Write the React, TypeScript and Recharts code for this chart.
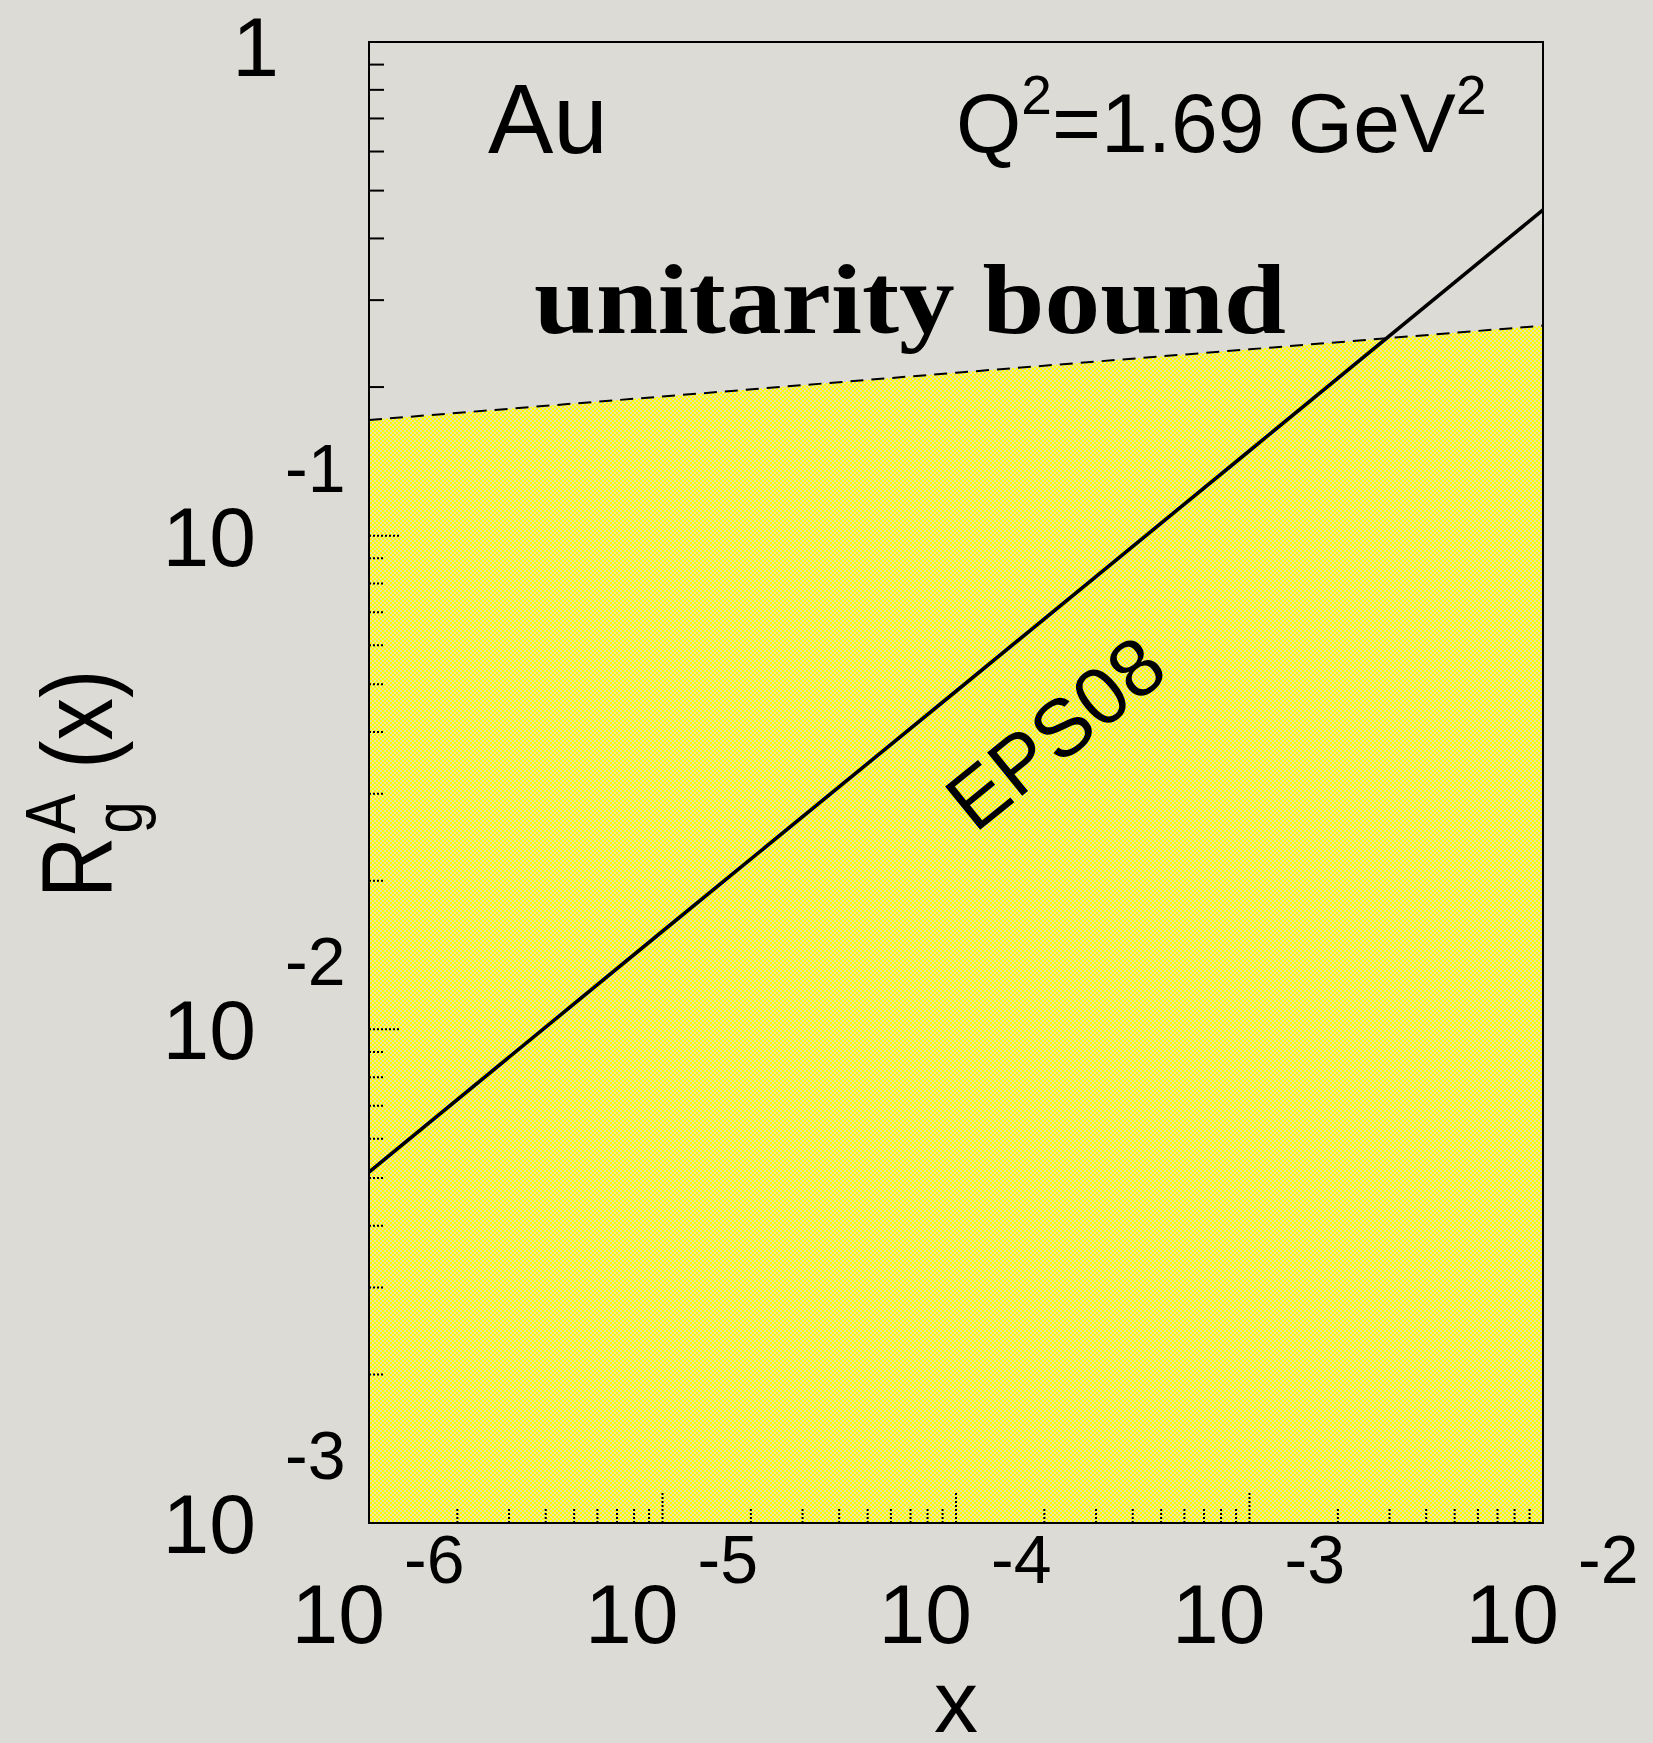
import { ComposedChart, Area, Line, XAxis, YAxis, ReferenceArea } from "recharts";

// gluon modification R_g^A(x) for Au, Q^2 = 1.69 GeV^2
const xValues = [1e-6, 1e-5, 1e-4, 1e-3, 1e-2];
const unitarityBound = [0.1715, 0.1914, 0.2138, 0.2385, 0.2663];
const eps08 = [0.00514, 0.0158, 0.0484, 0.1486, 0.457];

// tick decades (exponents of 10)
const xDecades = [-6, -5, -4, -3, -2];
const yDecades = [-3, -2, -1, 0];

const X_DOMAIN: [number, number] = [1e-6, 1e-2];
const Y_DOMAIN: [number, number] = [1e-3, 1];

const W = 1653;
const H = 1743;
const FRAME = { left: 369, top: 42, right: 1543, bottom: 1523 };

const SANS = "'Liberation Sans', Arial, Helvetica, sans-serif";
const SERIF = "'Liberation Serif', 'Times New Roman', serif";

const data = xValues.map((x, i) => ({ x, bound: unitarityBound[i], eps: eps08[i] }));

// decade ticks plus 2..9 minor ticks in between
function withMinors(decades: number[]) {
  const out: number[] = [];
  decades.forEach((d, i) => {
    const base = Math.pow(10, d);
    out.push(base);
    if (i < decades.length - 1) {
      for (let m = 2; m <= 9; m++) out.push(m * base);
    }
  });
  return out;
}

const xTicks = withMinors(xDecades);
const yTicks = withMinors(yDecades);

const decadeOf = (v: number) => {
  const e = Math.log10(v);
  return Math.abs(e - Math.round(e)) < 1e-6 ? Math.round(e) : null;
};

const XTick = (props: any) => {
  const { x, y, payload } = props;
  const e = decadeOf(payload.value);
  const len = e !== null ? 31 : 14;
  return (
    <g>
      <line x1={x} x2={x} y1={y} y2={y - len} stroke="#000" strokeWidth={2} strokeDasharray="2 2" />
      {e !== null && (
        <g fontFamily={SANS} fill="#000">
          <text x={x + 16} y={y + 120} fontSize={84} textAnchor="end">10</text>
          <text x={x + 35} y={y + 60} fontSize={68} textAnchor="start">{`-${Math.abs(e)}`}</text>
        </g>
      )}
    </g>
  );
};

const YTick = (props: any) => {
  const { x, y, payload } = props;
  const v = payload.value;
  const e = decadeOf(v);
  const len = e !== null ? 30 : 15;
  const dashed = v < 0.17;
  return (
    <g>
      {e !== 0 && (
        <line
          x1={x}
          x2={x + len}
          y1={y}
          y2={y}
          stroke="#000"
          strokeWidth={2}
          strokeDasharray={dashed ? "2 2" : undefined}
        />
      )}
      {e === 0 && (
        <text x={x - 90} y={y + 34} fontSize={84} textAnchor="end" fontFamily={SANS} fill="#000">1</text>
      )}
      {e !== null && e !== 0 && (
        <g fontFamily={SANS} fill="#000">
          <text x={x - 113} y={y + 30} fontSize={84} textAnchor="end">10</text>
          <text x={x - 84} y={y - 44} fontSize={68} textAnchor="start">{`-${Math.abs(e)}`}</text>
        </g>
      )}
    </g>
  );
};

export default function App() {
  return (
    <div style={{ position: "absolute", left: 0, top: 0, width: W, height: H, background: "#dddbd5" }}>
      <ComposedChart
        width={W}
        height={H}
        data={data}
        margin={{ top: FRAME.top, left: FRAME.left - 1, right: W - FRAME.right, bottom: H - FRAME.bottom - 1 }}
      >
        <defs>
          <pattern id="yellowChecker" width={4} height={4} patternUnits="userSpaceOnUse">
            <rect x={0} y={0} width={4} height={4} fill="#e6e2a8" />
            <rect x={0} y={0} width={2} height={2} fill="#ffff00" />
            <rect x={2} y={2} width={2} height={2} fill="#ffff00" />
          </pattern>
        </defs>
        <XAxis
          dataKey="x"
          type="number"
          scale="log"
          domain={X_DOMAIN}
          allowDataOverflow
          ticks={xTicks}
          interval={0}
          height={1}
          tickSize={0}
          tickMargin={0}
          tickLine={false}
          axisLine={false}
          tick={XTick}
        />
        <YAxis
          type="number"
          scale="log"
          domain={Y_DOMAIN}
          allowDataOverflow
          ticks={yTicks}
          interval={0}
          width={1}
          tickSize={0}
          tickMargin={0}
          tickLine={false}
          axisLine={false}
          tick={YTick}
        />
        <Area
          type="linear"
          dataKey="bound"
          stroke="#000"
          strokeWidth={2}
          strokeDasharray="13 8"
          fill="url(#yellowChecker)"
          fillOpacity={1}
          baseValue={Y_DOMAIN[0]}
          dot={false}
          activeDot={false}
          isAnimationActive={false}
        />
        <Line
          type="linear"
          dataKey="eps"
          stroke="#000"
          strokeWidth={3.6}
          dot={false}
          activeDot={false}
          isAnimationActive={false}
        />
        <ReferenceArea
          x1={X_DOMAIN[0]}
          x2={X_DOMAIN[1]}
          y1={Y_DOMAIN[0]}
          y2={Y_DOMAIN[1]}
          fill="none"
          stroke="#000"
          strokeWidth={2}
          ifOverflow="visible"
        />
      </ComposedChart>

      {/* text annotations and axis titles, drawn above the plotted series */}
      <svg
        width={W}
        height={H}
        style={{ position: "absolute", left: 0, top: 0, pointerEvents: "none" }}
      >
        <text x={488} y={153} fontSize={98} fontFamily={SANS} fill="#000">Au</text>
        <text x={956} y={152} fontSize={84} fontFamily={SANS} fill="#000">
          Q<tspan dy={-38} fontSize={55}>2</tspan>
          <tspan dy={38}>=1.69 GeV</tspan>
          <tspan dy={-38} fontSize={55}>2</tspan>
        </text>
        <text
          x={534}
          y={333}
          fontSize={100}
          fontWeight="bold"
          fontFamily={SERIF}
          fill="#000"
          textLength={752}
          lengthAdjust="spacingAndGlyphs"
        >
          unitarity bound
        </text>
        <text transform="translate(975,834) rotate(-39)" fontSize={81} fontFamily={SANS} fill="#000">
          EPS08
        </text>

        <text x={956} y={1732} fontSize={88} textAnchor="middle" fontFamily={SANS} fill="#000">x</text>
        <g transform="translate(112,898) rotate(-90) scale(0.85,1)" fontFamily={SANS} fill="#000">
          <text x={0} y={0} fontSize={100}>R</text>
          <text x={76} y={-37} fontSize={70}>A</text>
          <text x={76} y={30} fontSize={68}>g</text>
          <text x={152} y={0} fontSize={100}>(x)</text>
        </g>
      </svg>
    </div>
  );
}
